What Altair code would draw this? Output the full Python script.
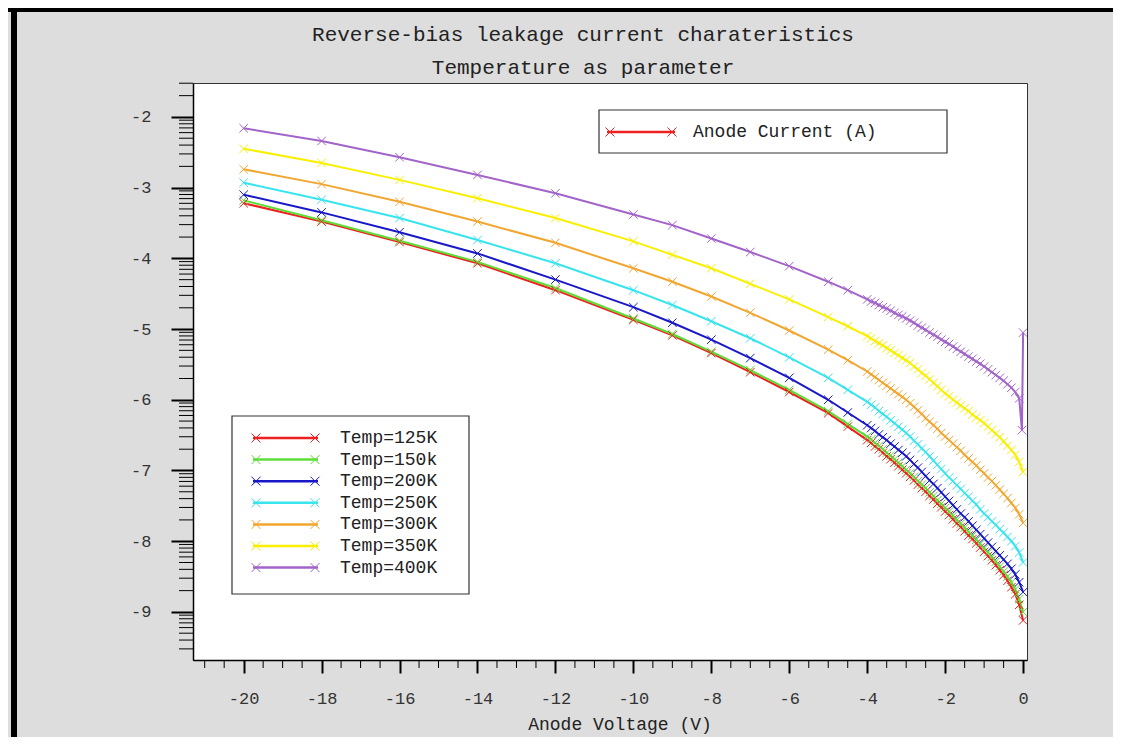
import math
import altair as alt
import pandas as pd

# ---------------- text ----------------
TITLE = "Reverse-bias leakage current charateristics"
SUBTITLE = "Temperature as parameter"
X_TITLE = "Anode Voltage (V)"
MAIN_LEGEND = "Anode Current (A)"

SERIES = ["Temp=125K", "Temp=150k", "Temp=200K", "Temp=250K",
          "Temp=300K", "Temp=350K", "Temp=400K"]
COLORS = ["#ee2020", "#5edc38", "#1818c8", "#38e4ee",
          "#f2a630", "#f8f000", "#a264c8"]

# ---------------- axes ----------------
X_MAJOR = [-20, -18, -16, -14, -12, -10, -8, -6, -4, -2, 0]
Y_MAJOR = [-2, -3, -4, -5, -6, -7, -8, -9]
X_DOMAIN = [-21.3, 0.1]
Y_DOMAIN = [-9.68, -1.52]
MINOR_K = [2, 3, 4, 5, 6, 7, 8, 9]

# ---------------- data: log10(anode current) ----------------
V_COARSE = [-20, -18, -16, -14, -12, -10, -9, -8, -7, -6, -5, -4.5]
V_DENSE = [-4.0, -3.9, -3.8, -3.7, -3.6, -3.5, -3.4, -3.3, -3.2, -3.1,
           -3.0, -2.9, -2.8, -2.7, -2.6, -2.5, -2.4, -2.3, -2.2, -2.1,
           -2.0, -1.9, -1.8, -1.7, -1.6, -1.5, -1.4, -1.3, -1.2, -1.1,
           -1.0, -0.9, -0.8, -0.7, -0.6, -0.5, -0.4, -0.3, -0.2, -0.1,
           0.0]

T125_COARSE = [-3.22, -3.48, -3.77, -4.07, -4.45, -4.87, -5.09, -5.34, -5.61, -5.89, -6.19, -6.38]
T125_DENSE = [-6.57, -6.61, -6.66, -6.70, -6.75, -6.80, -6.84, -6.89, -6.94, -6.99,
              -7.04, -7.09, -7.14, -7.20, -7.25, -7.30, -7.36, -7.41, -7.47, -7.52,
              -7.58, -7.63, -7.69, -7.75, -7.80, -7.86, -7.92, -7.97, -8.03, -8.09,
              -8.15, -8.21, -8.27, -8.34, -8.41, -8.48, -8.56, -8.65, -8.75, -8.90,
              -9.12]

T150_COARSE = [-3.18, -3.46, -3.75, -4.05, -4.42, -4.85, -5.07, -5.32, -5.58, -5.86, -6.16, -6.34]
T150_DENSE = [-6.52, -6.56, -6.61, -6.65, -6.70, -6.75, -6.79, -6.84, -6.89, -6.94,
              -6.99, -7.04, -7.09, -7.15, -7.20, -7.25, -7.31, -7.36, -7.42, -7.47,
              -7.53, -7.58, -7.64, -7.70, -7.75, -7.81, -7.87, -7.92, -7.98, -8.04,
              -8.10, -8.16, -8.22, -8.29, -8.36, -8.43, -8.50, -8.58, -8.68, -8.82,
              -9.00]

T200_COARSE = [-3.10, -3.35, -3.63, -3.93, -4.30, -4.69, -4.91, -5.15, -5.41, -5.69, -6.00, -6.18]
T200_DENSE = [-6.36, -6.40, -6.44, -6.49, -6.53, -6.57, -6.62, -6.66, -6.71, -6.75,
              -6.80, -6.85, -6.91, -6.96, -7.02, -7.08, -7.14, -7.19, -7.25, -7.31,
              -7.37, -7.43, -7.49, -7.55, -7.61, -7.66, -7.72, -7.78, -7.84, -7.90,
              -7.96, -8.02, -8.08, -8.14, -8.20, -8.26, -8.32, -8.39, -8.47, -8.58,
              -8.72]

T250_COARSE = [-2.93, -3.17, -3.43, -3.74, -4.07, -4.45, -4.66, -4.89, -5.13, -5.40, -5.69, -5.86]
T250_DENSE = [-6.03, -6.07, -6.11, -6.16, -6.20, -6.24, -6.29, -6.33, -6.38, -6.42,
              -6.47, -6.52, -6.58, -6.63, -6.69, -6.74, -6.80, -6.86, -6.92, -6.98,
              -7.04, -7.10, -7.15, -7.21, -7.26, -7.32, -7.37, -7.43, -7.48, -7.55,
              -7.61, -7.66, -7.72, -7.77, -7.83, -7.88, -7.94, -8.00, -8.07, -8.16,
              -8.30]

T300_COARSE = [-2.74, -2.95, -3.20, -3.48, -3.78, -4.14, -4.33, -4.54, -4.77, -5.02, -5.29, -5.44]
T300_DENSE = [-5.60, -5.64, -5.68, -5.72, -5.76, -5.80, -5.84, -5.88, -5.92, -5.96,
              -6.00, -6.05, -6.10, -6.15, -6.20, -6.26, -6.31, -6.36, -6.41, -6.47,
              -6.52, -6.57, -6.62, -6.67, -6.72, -6.78, -6.83, -6.88, -6.93, -6.99,
              -7.04, -7.10, -7.15, -7.21, -7.27, -7.33, -7.39, -7.46, -7.53, -7.62,
              -7.74]

T350_COARSE = [-2.45, -2.65, -2.89, -3.15, -3.43, -3.76, -3.95, -4.14, -4.36, -4.58, -4.83, -4.96]
T350_DENSE = [-5.10, -5.13, -5.17, -5.20, -5.23, -5.27, -5.30, -5.34, -5.37, -5.41,
              -5.44, -5.48, -5.53, -5.57, -5.62, -5.66, -5.71, -5.76, -5.81, -5.86,
              -5.91, -5.95, -6.00, -6.04, -6.08, -6.12, -6.16, -6.21, -6.25, -6.29,
              -6.33, -6.38, -6.43, -6.48, -6.53, -6.59, -6.65, -6.71, -6.78, -6.88,
              -7.02]

T400_COARSE = [-2.16, -2.34, -2.57, -2.82, -3.08, -3.38, -3.53, -3.72, -3.91, -4.11, -4.33, -4.45]
T400_DENSE = [-4.58, -4.61, -4.63, -4.66, -4.69, -4.71, -4.74, -4.77, -4.80, -4.82,
              -4.85, -4.88, -4.91, -4.95, -4.98, -5.01, -5.05, -5.08, -5.11, -5.15,
              -5.18, -5.21, -5.25, -5.28, -5.32, -5.35, -5.39, -5.42, -5.46, -5.49,
              -5.53, -5.57, -5.61, -5.65, -5.69, -5.73, -5.78, -5.83, -5.89, -5.98]
T400_TAIL_V = [-0.03, 0.0]
T400_TAIL = [-6.43, -5.05]

CURVES = [
    (T125_COARSE, T125_DENSE, [], []),
    (T150_COARSE, T150_DENSE, [], []),
    (T200_COARSE, T200_DENSE, [], []),
    (T250_COARSE, T250_DENSE, [], []),
    (T300_COARSE, T300_DENSE, [], []),
    (T350_COARSE, T350_DENSE, [], []),
    (T400_COARSE, T400_DENSE, T400_TAIL_V, T400_TAIL),
]

rows = []
for si, (coarse, dense, tv, ty) in enumerate(CURVES):
    vs = list(V_COARSE) + list(V_DENSE[:len(dense)]) + list(tv)
    ys_ = list(coarse) + list(dense) + list(ty)
    for v, y in zip(vs, ys_):
        rows.append({"V": v, "logI": y, "series": SERIES[si], "s": si})
df = pd.DataFrame(rows)

# ---------------- layout (pixels) ----------------
W, H = 834, 577
PAD = {"left": 185, "top": 75, "right": 86, "bottom": 77}
FONT = "Liberation Mono"
XPATH = "M-1,-1L1,1M-1,1L1,-1"
BG = "#dddddd"

xs = alt.Scale(domain=X_DOMAIN, nice=False, zero=False)
ys = alt.Scale(domain=Y_DOMAIN, nice=False, zero=False)

color = alt.Color("series:N", scale=alt.Scale(domain=SERIES, range=COLORS), legend=None)

LABEL_EXPR = "datum.value < 0 ? '-' + format(-datum.value, 'd') : format(datum.value, 'd')"

x_axis = alt.Axis(values=X_MAJOR, tickSize=13, tickWidth=2, tickColor="black",
                  domainColor="black", domainWidth=1.5, labelPadding=17,
                  labelFont=FONT, labelFontSize=17, labelColor="#333", title=None,
                  grid=False, labelExpr=LABEL_EXPR)
y_axis = alt.Axis(values=Y_MAJOR, tickSize=22, tickWidth=2, tickColor="black",
                  domainColor="black", domainWidth=1.5, labelPadding=20,
                  labelFont=FONT, labelFontSize=17, labelColor="#333", title=None,
                  grid=False, labelExpr=LABEL_EXPR)

X = alt.X("V:Q", scale=xs, axis=x_axis)
Y = alt.Y("logI:Q", scale=ys, axis=y_axis)

lines = alt.Chart(df).mark_line(strokeWidth=2, clip=True).encode(
    x=X, y=Y, color=color, detail="s:N", order="V:Q")
points = alt.Chart(df).mark_point(shape=XPATH, filled=False, size=72, strokeWidth=1,
                                  opacity=1, clip=True).encode(x=X, y=Y, color=color)

# minor ticks
y_minor = [m + math.log10(k) for m in range(-10, -1) for k in MINOR_K]
y_minor = [t for t in y_minor if Y_DOMAIN[0] < t < Y_DOMAIN[1]]
x_minor = [v / 2 for v in range(-42, 1) if v % 4 != 0]
x_minor = [t for t in x_minor if X_DOMAIN[0] <= t <= X_DOMAIN[1]]

y_minor_layer = alt.Chart(pd.DataFrame({"logI": y_minor})).mark_rule(
    color="black", strokeWidth=1).encode(y=Y, x=alt.value(-14), x2=alt.value(0))
x_minor_layer = alt.Chart(pd.DataFrame({"V": x_minor})).mark_rule(
    color="black", strokeWidth=1).encode(x=X, y=alt.value(H), y2=alt.value(H + 8))

one = pd.DataFrame({"k": [0]})


def rect(x1, x2, y1, y2, fill, stroke=None):
    kw = {"fill": fill}
    if stroke:
        kw.update(stroke=stroke, strokeWidth=1.2)
    return alt.Chart(one).mark_rect(**kw).encode(
        x=alt.value(x1), x2=alt.value(x2), y=alt.value(y1), y2=alt.value(y2))


def text(t, x, y, size, align="center"):
    return alt.Chart(pd.DataFrame({"t": [t]})).mark_text(
        font=FONT, fontSize=size, color="#222", align=align, baseline="middle").encode(
        text="t:N", x=alt.value(x), y=alt.value(y))


def legend_line(x1, x2, y, col, msize):
    ln = alt.Chart(one).mark_rule(color=col, strokeWidth=2.5).encode(
        x=alt.value(x1), x2=alt.value(x2), y=alt.value(y))
    m1 = alt.Chart(one).mark_point(shape=XPATH, filled=False, size=msize, color=col,
                                   opacity=1, strokeWidth=1).encode(x=alt.value(x1 + 3), y=alt.value(y))
    m2 = alt.Chart(one).mark_point(shape=XPATH, filled=False, size=msize, color=col,
                                   opacity=1, strokeWidth=1).encode(x=alt.value(x2 - 3), y=alt.value(y))
    return [ln, m1, m2]


RIGHT = W + PAD["right"]
layers = []
# window-like black border (top and left); gray strip covering the right edge
layers.append(rect(RIGHT - 8, RIGHT + 2, -PAD["top"], H + PAD["bottom"], BG))
layers.append(rect(-PAD["left"], RIGHT, -PAD["top"], -PAD["top"] + 4, "black"))
layers.append(rect(-PAD["left"] + 3, -PAD["left"] + 9, -PAD["top"], H + PAD["bottom"], "black"))

layers += [y_minor_layer, x_minor_layer, lines, points]

# titles
layers.append(text(TITLE, 390, -48, 21))
layers.append(text(SUBTITLE, 390, -15, 21))
layers.append(text(X_TITLE, 427, 642, 18))

# main legend
layers.append(rect(406, 754, 27, 70, "white", "#333"))
layers += legend_line(414, 482, 49, COLORS[0], 81)
layers.append(text(MAIN_LEGEND, 500, 49, 18, "left"))

# series legend
layers.append(rect(39, 276, 333, 511, "white", "#333"))
for i, (lab, col) in enumerate(zip(SERIES, COLORS)):
    ly = 355 + i * 21.6
    layers += legend_line(60, 125, ly, col, 81)
    layers.append(text(lab, 147, ly, 18, "left"))

chart = alt.layer(*layers).properties(
    width=W, height=H,
    autosize=alt.AutoSizeParams(type="none"),
    padding=PAD,
    background=BG,
).configure_view(stroke="#333", strokeWidth=1, fill="white")

chart.save("out.html", embed_options={"renderer": "svg", "actions": False})
